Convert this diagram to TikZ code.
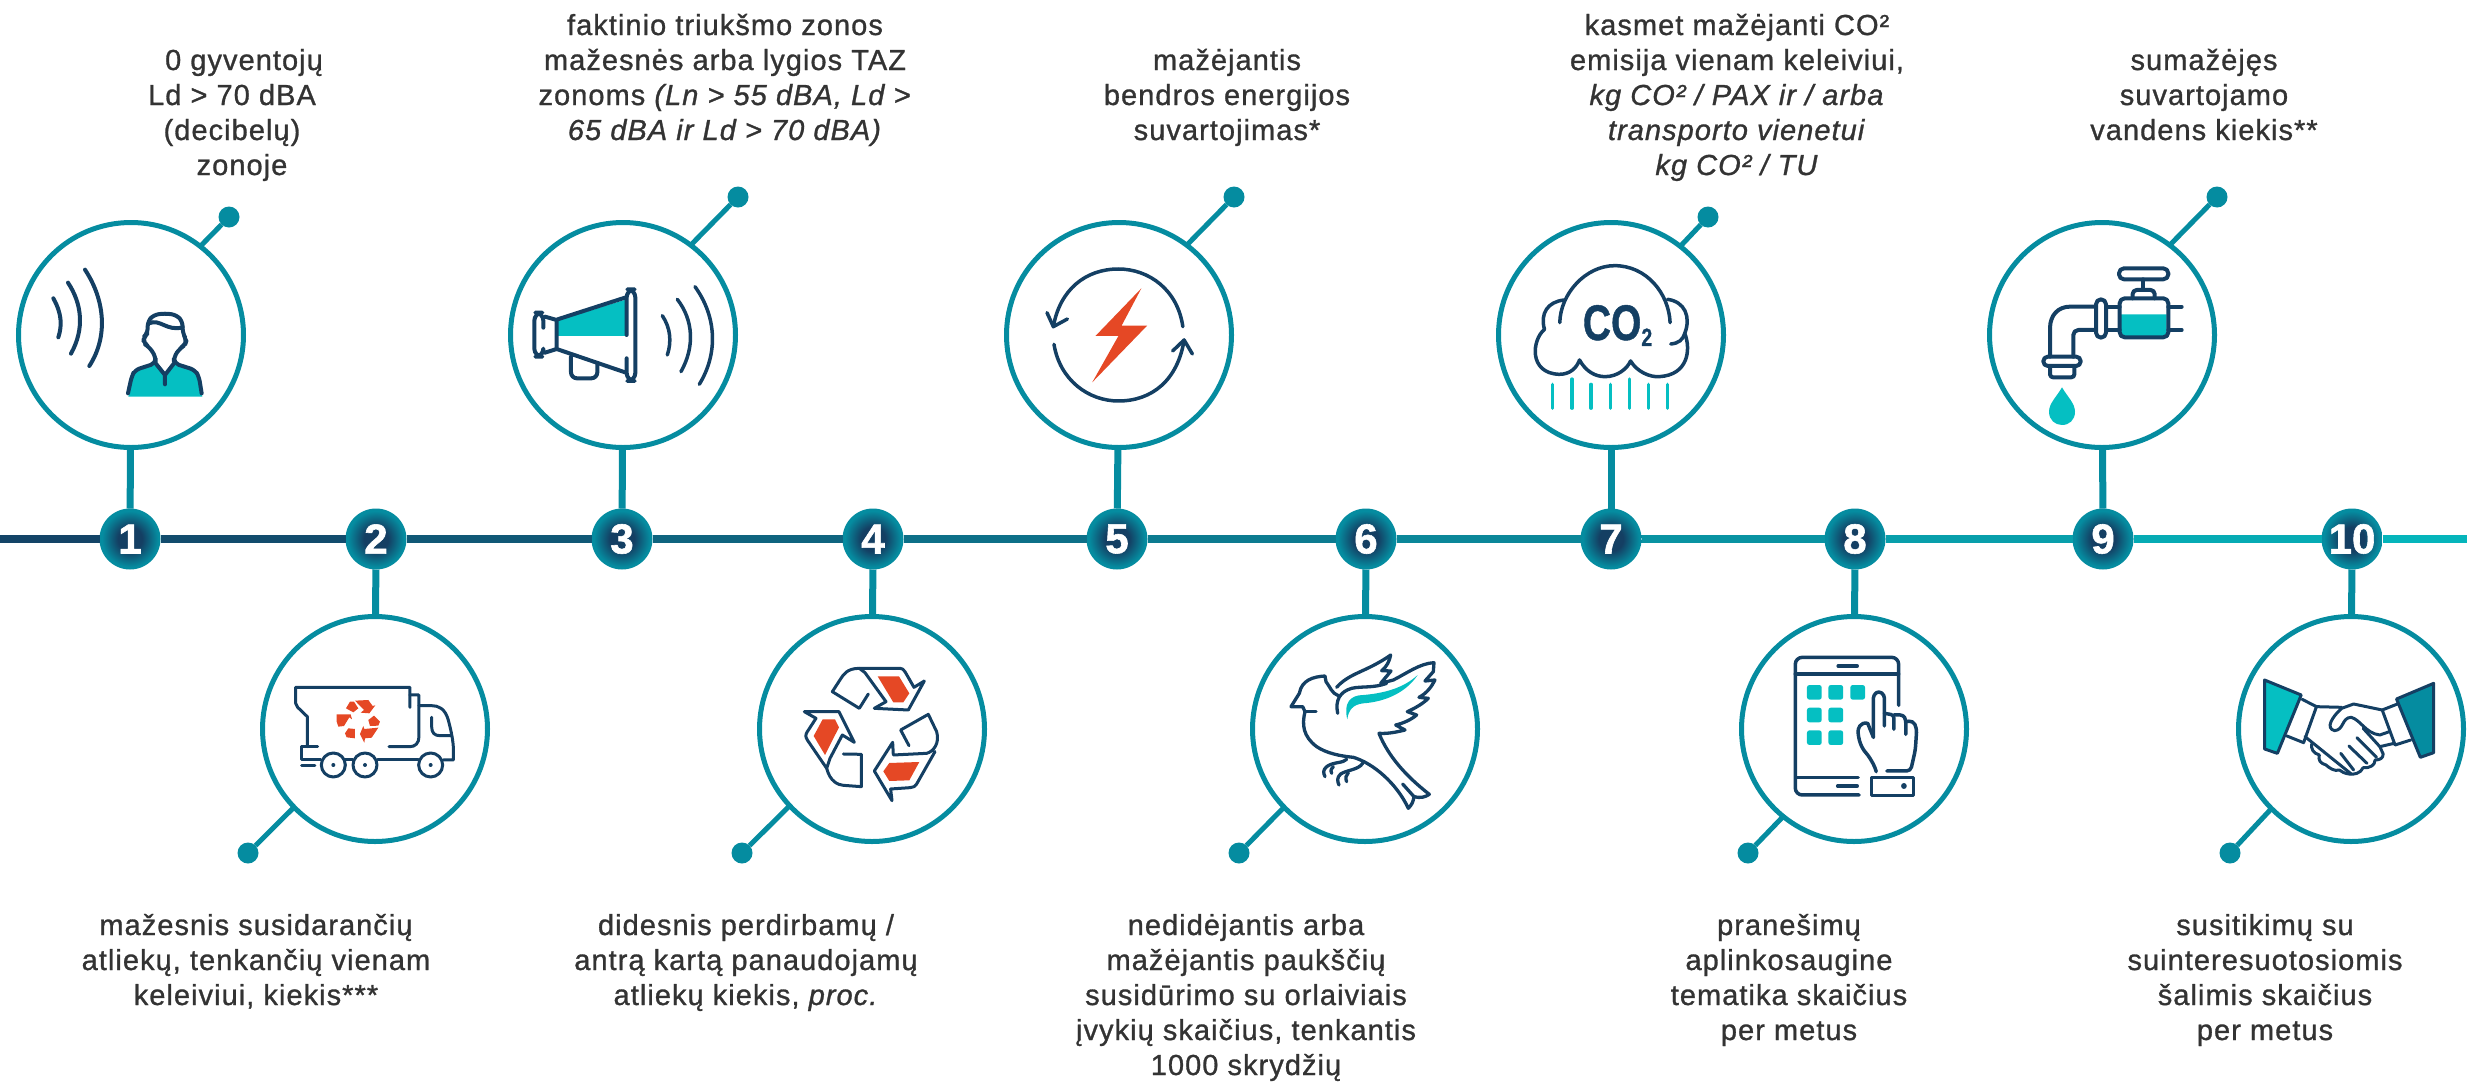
\documentclass[tikz,border=0pt]{standalone}
\usepackage{fontspec}
\setmainfont{Liberation Sans}[LetterSpace=3.6,FakeBold=1.0]
\usetikzlibrary{calc}
\definecolor{navy}{HTML}{143F63}
\definecolor{ringT}{HTML}{058CA0}
\definecolor{brightT}{HTML}{05BFC2}
\definecolor{redO}{HTML}{E54825}
\definecolor{lineL}{HTML}{134064}
\definecolor{lineR}{HTML}{05B7BD}
\definecolor{txtgray}{HTML}{333333}
\pgfdeclareradialshading{badgeshade}{\pgfpointorigin}{color(0bp)=(navy); color(10bp)=(navy); color(23bp)=(ringT); color(50bp)=(ringT)}
\newcommand{\firstline}{\rule{0pt}{25pt}}
\tikzset{
  ring/.style={circle,draw=ringT,line width=5pt,minimum size=225pt,inner sep=0pt,outer sep=0pt},
  badge/.style={circle,minimum size=61pt,inner sep=0pt,outer sep=0pt,shade,shading=badgeshade,text=white,font=\fontsize{42}{42}\selectfont\bfseries\addfontfeature{LetterSpace=0,FakeBold=1.4}},
  balloon/.style={circle,fill=ringT,minimum size=21pt,inner sep=0pt,outer sep=0pt},
  stem/.style={draw=ringT,line width=7pt},
  pin/.style={draw=ringT,line width=5pt},
  seg/.style={line width=8pt},
  label/.style={font=\fontsize{29}{35}\selectfont,align=center,inner sep=0pt,outer sep=0pt,anchor=north,text=txtgray},
  ic/.style={draw=navy,line width=#1,line cap=round,line join=round},
  ic/.default=3.5pt,
  zoomed/.style n args={4}{shift={(#1,#2)},x=#3pt,y=-#4pt}
}
\begin{document}
\begin{tikzpicture}[x=1pt,y=-1pt]
\useasboundingbox (0,0) rectangle (2467,1082);
\coordinate (lineL) at (0,539);
\coordinate (lineR) at (2467,539);
% rings, badges, balloons
\foreach \n/\x in {1/131,3/623,5/1119,7/1611,9/2102}
  \node[ring] (c\n) at (\x,335) {};
\foreach \n/\x in {2/375,4/872,6/1365,8/1854,10/2351}
  \node[ring] (c\n) at (\x,729) {};
\foreach \n/\x in {1/130,2/376,3/622,4/873,5/1117,6/1366,7/1611,8/1855,9/2103,10/2352}
  \node[badge] (b\n) at (\x,539) {\n};
\foreach \n/\x/\y in {1/229/217,3/738/197,5/1234/197,7/1708/217,9/2217/197,2/248/853,4/742/853,6/1239/853,8/1748/853,10/2230/853}
  \node[balloon] (d\n) at (\x,\y) {};
% main line
\foreach \a/\b/\t in {lineL/b1/3,b1/b2/10,b2/b3/20,b3/b4/30,b4/b5/40,b5/b6/50,b6/b7/60,b7/b8/70,b8/b9/80,b9/b10/90,b10/lineR/98}
  \draw[seg,color=lineR!\t!lineL] (\a) -- (\b);
% stems
\foreach \n in {1,...,10} \draw[stem] (c\n) -- (b\n);
% pins
\foreach \n/\a in {1/52,3/53,5/53,7/52,9/53,2/224,4/223,6/224,8/231,10/225}
  \draw[pin] (c\n.\a) -- (d\n);
% labels
\node[label] (t1) at (232,45) {\firstline\hspace*{24pt}0 gyventojų\\Ld > 70 dBA\\(decibelų)\\\hspace*{20pt}zonoje};
\node[label] (t3) at (725,10) {\firstline faktinio triukšmo zonos\\mažesnės arba lygios TAZ\\zonoms \textit{(Ln > 55 dBA, Ld >}\\\textit{65 dBA ir Ld > 70 dBA)}};
\node[label] (t5) at (1227,45) {\firstline mažėjantis\\bendros energijos\\suvartojimas*};
\node[label] (t7) at (1737,10) {\firstline kasmet mažėjanti CO²\\emisija vienam keleiviui,\\\textit{kg CO² / PAX ir / arba}\\\textit{transporto vienetui}\\\textit{kg CO² / TU}};
\node[label] (t9) at (2204,45) {\firstline sumažėjęs\\suvartojamo\\vandens kiekis**};
\node[label] (t2) at (256,910) {\firstline mažesnis susidarančių\\atliekų, tenkančių vienam\\keleiviui, kiekis***};
\node[label] (t4) at (746,910) {\firstline didesnis perdirbamų /\\antrą kartą panaudojamų\\atliekų kiekis, \textit{proc.}};
\node[label] (t6) at (1246,910) {\firstline nedidėjantis arba\\mažėjantis paukščių\\susidūrimo su orlaiviais\\įvykių skaičius, tenkantis\\1000 skrydžių};
\node[label] (t8) at (1789,910) {\firstline pranešimų\\aplinkosaugine\\tematika skaičius\\per metus};
\node[label] (t10) at (2265,910) {\firstline susitikimų su\\suinteresuotosiomis\\šalimis skaičius\\per metus};

% ---- icon 1: person
\begin{scope}[zoomed={0}{200}{.3333}{.3333}]
\fill[brightT] (385,590) -- (397,530) -- (420,505) -- (467,490) -- (495,528) -- (522,490) -- (575,505) -- (595,530) -- (607,590) -- cycle;
\draw[ic=4pt] (160,295) .. controls (185,340) and (187,375) .. (175,412);
\draw[ic=4pt] (204,248) .. controls (245,310) and (255,385) .. (213,461);
\draw[ic=4pt] (255,209) .. controls (315,300) and (325,410) .. (268,498);
\draw[ic=4pt,rounded corners=5pt] (384,580) -- (395,530) -- (405,510) -- (467,490) -- (467,470) -- (447,440) -- (430,430) -- (432,410) -- (443,400) -- (443,365) -- (460,345) -- (495,340) -- (530,345) -- (548,365) -- (548,400) -- (560,420) -- (555,435) -- (540,445) -- (522,470) -- (522,490) -- (585,510) -- (597,530) -- (605,580);
\draw[ic=4pt] (467,490) -- (495,525) -- (522,490) (495,525) -- (495,553);
\draw[ic=4pt] (447,370) .. controls (480,355) and (500,395) .. (548,382);
\end{scope}

% ---- icon 2: truck
\begin{scope}[zoomed={230}{580}{.3333}{.3333}]
\draw[ic=3pt] (540,382) -- (540,322) -- (197,322) -- (197,370) -- (203,382) -- (232,410) -- (232,500);
\draw[ic=3pt] (263,500) -- (215,500) -- (215,540) -- (272,540) (345,540) -- (368,540) (443,540) -- (565,540);
\draw[ic=3pt] (640,540) -- (670,540) -- (670,500) .. controls (668,470) and (660,440) .. (655,420) .. controls (645,385) and (625,377) .. (605,377) -- (567,377);
\draw[ic=3pt] (540,345) -- (567,345) -- (567,470) .. controls (567,490) and (555,500) .. (540,500) -- (477,500);
\draw[ic=3pt] (605,412) -- (605,440) .. controls (605,460) and (615,467) .. (630,467) -- (665,467);
\draw[ic=3pt] (215,558) -- (255,558);
\foreach \x in {310,405,602} {
  \draw[ic=3pt] (\x,555) circle[radius=12pt];
  \fill[navy] (\x,555) circle[radius=2pt];
}
\fill[redO] (348,385) -- (360,365) -- (372,365) -- (385,385) -- (370,397) -- cycle;
\fill[redO] (375,362) -- (415,360) -- (428,378) -- (436,376) -- (418,400) -- (392,398) -- (402,390) -- cycle;
\fill[redO] (320,403) -- (362,403) -- (366,418) -- (358,412) -- (342,438) -- (325,440) -- (320,425) -- cycle;
\fill[redO] (345,460) -- (355,445) -- (375,447) -- (375,475) -- (350,472) -- cycle;
\fill[redO] (390,462) -- (400,438) -- (403,447) -- (445,443) -- (425,473) -- (405,475) -- (403,488) -- cycle;
\fill[redO] (415,420) -- (432,407) -- (450,425) -- (445,437) -- (420,438) -- cycle;
\end{scope}

% ---- icon 3: megaphone
\begin{scope}[zoomed={480}{200}{.3333}{.3333}]
\fill[brightT] (233,362) -- (440,298) -- (440,408) -- (233,408) -- cycle;
\draw[ic=4pt] (233,358) -- (438,292) (230,447) -- (438,518);
\draw[ic=4pt,rounded corners=8pt] (440,405) -- (440,268) -- (466,268) -- (466,543) -- (440,543) -- (440,475);
\draw[ic=4pt] (195,350) -- (230,360) -- (230,447) -- (195,458);
\draw[ic=4pt,rounded corners=8pt] (190,383) -- (190,338) -- (163,338) -- (163,470) -- (190,470) -- (190,458);
\draw[ic=4pt,rounded corners=6pt] (273,470) -- (273,535) -- (352,535) -- (352,490);
\draw[ic=3.5pt] (547,347) .. controls (572,385) and (575,425) .. (562,465);
\draw[ic=3.5pt] (592,298) .. controls (640,360) and (645,440) .. (603,515);
\draw[ic=3.5pt] (645,260) .. controls (710,350) and (715,460) .. (658,553);
\end{scope}

% ---- icon 4: recycling
\begin{scope}[zoomed={730}{600}{.3333}{.3333}]
\fill[redO] (443,229) -- (507,229) -- (538,280) -- (520,307) -- (490,307) -- cycle;
\fill[redO] (278,358) -- (315,358) -- (327,382) -- (285,465) -- (251,408) -- cycle;
\fill[redO] (568,486) -- (538,541) -- (478,543) -- (460,514) -- (478,489) -- cycle;
\draw[ic=3pt] (388,205) -- (405,218) -- (468,305) -- (433,325) -- (535,330) -- (583,243) -- (552,262) -- (525,215) .. controls (520,207) and (515,205) .. (510,205) -- cycle;
\draw[ic=3pt] (388,205) .. controls (350,205) and (340,225) .. (333,235) -- (307,275) -- (388,325) -- (415,282);
\draw[ic=3pt] (290,505) -- (232,420) .. controls (226,410) and (226,405) .. (232,395) -- (258,355) -- (223,335) -- (327,335) -- (373,427) -- (337,405) -- (300,475) -- cycle;
\draw[ic=3pt] (290,505) .. controls (300,545) and (325,555) .. (340,556) -- (394,560) -- (394,463) -- (340,462);
\draw[ic=3pt] (537,437) -- (512,390) -- (595,343) -- (620,395) .. controls (630,430) and (610,455) .. (590,460) -- (490,465) -- (488,427) -- (433,513) -- (486,602) -- (482,567) -- (540,563) .. controls (550,562) and (555,560) .. (560,552) -- (615,455);
\end{scope}

% ---- icon 5: energy
\begin{scope}[zoomed={980}{200}{.6378}{.3333}]
\draw[ic=3.5pt] (318,380) .. controls (310,270) and (265,207) .. (217,207) .. controls (165,207) and (125,270) .. (115,380);
\draw[ic=3.5pt] (105,338) -- (115,380) -- (137,357);
\draw[ic=3.5pt] (116,433) .. controls (125,540) and (170,603) .. (217,603) .. controls (270,603) and (310,540) .. (320,420);
\draw[ic=3.5pt] (302,453) -- (320,420) -- (333,462);
\fill[redO] (253,265) -- (222,377) -- (262,377) -- (176,547) -- (217,408) -- (181,408) -- cycle;
\end{scope}

% ---- icon 7: cloud
\begin{scope}[zoomed={980}{200}{.6378}{.3333}]
\draw[ic=3.5pt] (909,368) .. controls (910,280) and (950,197) .. (995,197) .. controls (1045,197) and (1080,280) .. (1082,368);
\draw[ic=3.5pt] (916,300) .. controls (890,305) and (878,340) .. (885,388) .. controls (865,420) and (860,520) .. (908,523) .. controls (925,523) and (935,505) .. (940,480) .. controls (950,515) and (965,530) .. (980,530) .. controls (1000,530) and (1015,505) .. (1020,483) .. controls (1030,515) and (1050,532) .. (1065,530) .. controls (1110,525) and (1115,450) .. (1105,400) .. controls (1115,350) and (1105,305) .. (1078,298);
\draw[ic=3.5pt] (1105,400) .. controls (1102,420) and (1095,430) .. (1083,432);
\node[anchor=base west,inner sep=0pt,xscale=.78,text=navy,font=\fontsize{50}{50}\selectfont\bfseries\addfontfeature{LetterSpace=0}] (co2) at (945,420) {CO\raisebox{-6pt}{\fontsize{25}{25}\selectfont 2}};
\foreach \x/\y in {898/553,928/537,958/553,988/553,1018/537,1048/553,1078/553}
  \draw[draw=brightT,line width=3.2pt,line cap=round] (\x,\y) -- (\x,625);
\end{scope}

% ---- icon 6: bird
\begin{scope}[zoomed={1230}{600}{.3333}{.3333}]
\fill[brightT] (352,358) .. controls (340,310) and (360,285) .. (400,285) .. controls (460,280) and (520,265) .. (563,225) .. controls (530,275) and (470,305) .. (400,310) .. controls (370,313) and (355,330) .. (352,358) -- cycle;
\draw[ic=3.3pt] (325,287) .. controls (305,280) and (300,260) .. (288,245) -- (285,228) .. controls (250,230) and (215,240) .. (208,280) -- (183,320) -- (218,320) -- (225,335) .. controls (215,375) and (220,410) .. (260,440) .. controls (290,460) and (330,468) .. (370,472) .. controls (430,490) and (500,550) .. (535,625) .. controls (545,615) and (550,605) .. (552,590) .. controls (570,595) and (585,592) .. (598,583) .. controls (530,530) and (475,470) .. (447,400) .. controls (475,402) and (505,395) .. (525,390) -- (497,375) .. controls (520,370) and (545,358) .. (560,345) -- (532,335) .. controls (555,325) and (580,310) .. (595,295) -- (567,292) .. controls (590,280) and (605,260) .. (615,240) -- (585,243) -- (610,215) -- (612,188) .. controls (570,190) and (530,220) .. (490,240) -- (452,250) -- (483,213) -- (455,212) .. controls (470,200) and (478,185) .. (482,165) .. controls (440,195) and (400,210) .. (370,225) .. controls (345,238) and (330,250) .. (320,262);
\draw[ic=3.3pt] (225,335) -- (258,335);
\draw[ic=3.3pt] (323,340) .. controls (315,300) and (330,275) .. (365,265) .. controls (395,258) and (430,265) .. (470,250);
\draw[ic=3.3pt] (518,552) -- (552,590);
\draw[ic=3.3pt] (350,478) .. controls (340,490) and (310,485) .. (290,500) .. controls (278,510) and (280,520) .. (285,530);
\draw[ic=3.3pt] (305,520) .. controls (300,510) and (305,505) .. (310,500);
\draw[ic=3.3pt] (398,490) .. controls (385,510) and (350,510) .. (332,522) .. controls (320,532) and (322,545) .. (327,555);
\draw[ic=3.3pt] (350,545) .. controls (345,535) and (348,525) .. (355,518);
\end{scope}

% ---- icon 8: tablet
\begin{scope}[zoomed={1720}{600}{.4764}{.3333}]
\draw[ic=3.5pt,rounded corners=7pt] (375,316) -- (375,172) -- (158,172) -- (158,585) -- (292,585);
\draw[ic=3.5pt] (158,222) -- (375,222) (248,198) -- (288,198) (160,532) -- (290,532) (247,558) -- (288,558);
\foreach \x/\y in {198/277,243/277,289/277,198/345,243/345,198/413,243/413}
  \fill[brightT,rounded corners=2.5pt] ({\x-15.5},{\y-22}) rectangle ({\x+15.5},{\y+22});
\draw[ic=3.5pt,rounded corners=3pt] (322,412) -- (322,285) -- (333,273) -- (345,285) -- (345,378);
\draw[ic=3.5pt,rounded corners=3pt] (345,340) -- (365,345) -- (365,388);
\draw[ic=3.5pt,rounded corners=3pt] (365,345) -- (385,345) -- (390,360) -- (390,403);
\draw[ic=3.5pt,rounded corners=4pt] (390,365) -- (405,362) -- (413,385) -- (410,450) -- (400,513) -- (350,513);
\draw[ic=3.5pt] (322,412) -- (310,370) .. controls (295,365) and (288,385) .. (290,400) .. controls (292,430) and (300,450) .. (310,465) .. controls (320,485) and (325,500) .. (328,515);
\draw[ic=3.5pt] (318,532) rectangle (406,586);
\fill[navy] (386,558) ellipse[x radius=6,y radius=9];
\end{scope}

% ---- icon 10: handshake
\begin{scope}[zoomed={1720}{600}{.4764}{.3333}]
\filldraw[ic=3pt,fill=brightT] (1143,240) -- (1220,285) -- (1170,460) -- (1143,447) -- cycle;
\filldraw[ic=3pt,fill=ringT] (1498,250) -- (1420,297) -- (1470,472) -- (1498,458) -- cycle;
\draw[ic=3pt] (1222,298) -- (1252,320) -- (1225,428) -- (1190,408);
\draw[ic=3pt] (1422,312) -- (1390,330) -- (1417,435) -- (1450,420);
\draw[ic=3pt] (1252,320) -- (1305,322);
\draw[ic=3pt] (1390,330) -- (1330,312) -- (1305,325) .. controls (1285,350) and (1270,385) .. (1290,392) .. controls (1310,390) and (1305,352) .. (1325,352) .. controls (1345,360) and (1355,400) .. (1385,405) -- (1405,395);
\draw[ic=3pt] (1350,385) -- (1385,440) -- (1392,462) .. controls (1392,475) and (1385,480) .. (1375,480) .. controls (1375,495) and (1365,505) .. (1350,503) .. controls (1345,520) and (1330,525) .. (1320,522) .. controls (1310,520) and (1305,515) .. (1300,510) .. controls (1290,515) and (1280,505) .. (1272,495) .. controls (1260,490) and (1255,480) .. (1258,465) .. controls (1245,460) and (1240,445) .. (1242,432);
\draw[ic=3pt] (1228,410) -- (1325,522);
\draw[ic=3pt] (1337,413) -- (1378,472) (1320,438) -- (1358,490) (1303,460) -- (1330,510);
\draw[ic=3pt] (1385,440) -- (1415,430);
\end{scope}

% ---- icon 9: faucet
\begin{scope}[zoomed={1950}{200}{.3333}{.3333}]
\fill[brightT] (512,343) -- (650,343) -- (650,400) -- (640,408) -- (522,408) -- (512,400) -- cycle;
\draw[ic=4pt,rounded corners=5pt] (507,205) rectangle (655,238);
\draw[ic=4pt] (580,238) -- (580,270);
\draw[ic=4pt,rounded corners=4pt] (548,295) -- (548,270) -- (614,270) -- (614,295);
\draw[ic=4pt,rounded corners=5pt] (509,295) rectangle (655,412);
\draw[ic=4pt] (655,320) -- (695,320) (655,390) -- (695,390);
\draw[ic=4pt] (470,320) -- (509,320) (470,390) -- (509,390);
\draw[ic=4pt,rounded corners=5pt] (438,298) rectangle (468,413);
\draw[ic=4pt] (438,320) -- (360,320) .. controls (325,320) and (300,345) .. (300,385) -- (300,470);
\draw[ic=4pt,rounded corners=5pt] (438,390) -- (370,390) -- (370,470);
\draw[ic=4pt,rounded corners=4.5pt] (280,470) rectangle (392,498);
\draw[ic=4pt,rounded corners=3pt] (300,498) -- (300,532) -- (373,532) -- (373,498);
\fill[brightT] (336,562) .. controls (320,590) and (297,610) .. (297,635) .. controls (297,660) and (315,675) .. (336,675) .. controls (358,675) and (375,660) .. (375,635) .. controls (375,610) and (352,590) .. (336,562) -- cycle;
\end{scope}
\end{tikzpicture}
\end{document}
